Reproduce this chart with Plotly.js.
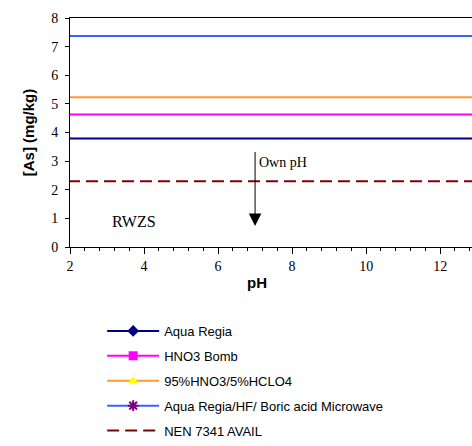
<!DOCTYPE html>
<html><head><meta charset="utf-8">
<script src="https://cdn.plot.ly/plotly-3.0.1.min.js"></script>
<style>
html,body{margin:0;padding:0;background:#fff}
#chart{width:472px;height:446px}
#chart .xtick text, #chart .ytick text{font-family:'Liberation Serif','Times New Roman',serif !important;}
</style>
</head><body><div id="chart"></div>
<script>
// Data
const seriesNames = ["Aqua Regia", "HNO3 Bomb", "95%HNO3/5%HCLO4", "Aqua Regia/HF/ Boric acid Microwave", "NEN 7341 AVAIL"];
const pHExtent = [0, 14];
const asAquaRegia = [3.79, 3.79];
const asHNO3Bomb = [4.63, 4.63];
const asHNO3HCLO4 = [5.23, 5.23];
const asMicrowave = [7.37, 7.37];
const asNEN7341 = [2.30, 2.30];
const ownPH = 7.0;
const arrowFrom = 3.37, arrowTo = 0.73;
const xTickVals = [2, 4, 6, 8, 10, 12];
const yTickVals = [0, 1, 2, 3, 4, 5, 6, 7, 8];

const traces = [
  {x: pHExtent, y: asAquaRegia, name: seriesNames[0], legendgroup: 'g0', mode: 'lines+markers',
   line: {color: '#000080', width: 2}, marker: {symbol: 'diamond', size: 9, color: '#000080'}},
  {x: pHExtent, y: asHNO3Bomb, name: seriesNames[1], legendgroup: 'g1', mode: 'lines+markers',
   line: {color: '#FF00FF', width: 2}, marker: {symbol: 'square', size: 9, color: '#FF00FF'}},
  {x: pHExtent, y: asHNO3HCLO4, name: seriesNames[2], legendgroup: 'g2', mode: 'lines+markers',
   line: {color: '#FF9933', width: 2}, marker: {symbol: 'triangle-up', size: 9, color: '#FFFF00'}},
  {x: pHExtent, y: asMicrowave, name: seriesNames[3], legendgroup: 'g3', mode: 'lines+markers',
   line: {color: '#3366FF', width: 2}, marker: {symbol: 'asterisk-open', size: 9, color: '#800080', line: {color: '#800080', width: 2}}},
  {x: pHExtent, y: asNEN7341, name: seriesNames[4], legendgroup: 'g4', mode: 'lines',
   line: {color: '#800000', width: 2, dash: '12px,6px'}}
];

const serif = 'Liberation Serif';
const sans = 'Liberation Sans';

const layout = {
  width: 472, height: 446,
  margin: {l: 70, r: 0, t: 18, b: 198},
  paper_bgcolor: '#fff', plot_bgcolor: '#fff',
  font: {family: serif, size: 14, color: '#000'},
  showlegend: true,
  legend: {x: 0.08, y: -0.30, xanchor: 'left', yanchor: 'top', traceorder: 'grouped',
    font: {family: sans, size: 13, color: '#000'}, tracegroupgap: 5,
    itemwidth: 52, bgcolor: 'rgba(0,0,0,0)'},
  xaxis: {range: [2, 12.86], tickmode: 'array', tickvals: xTickVals, ticktext: xTickVals.map(String),
    ticks: 'outside', ticklen: 6, tickwidth: 1,
    tickcolor: '#000', showline: true, linecolor: '#000', linewidth: 1, mirror: true,
    showgrid: false, zeroline: false, tickfont: {family: serif, size: 14, color: '#000'},
    minor: {dtick: 0.4, tick0: 2, ticks: 'outside', ticklen: 3, tickcolor: '#000', showgrid: false}},
  yaxis: {range: [0, 8], tickmode: 'array', tickvals: yTickVals, ticktext: yTickVals.map(String),
    ticks: 'outside', ticklen: 4, tickwidth: 1,
    tickcolor: '#000', showline: true, linecolor: '#000', linewidth: 1, ticklabelstandoff: 4,
    showgrid: false, zeroline: false, tickfont: {family: serif, size: 14, color: '#000'},
    title: {text: '[As] (mg/kg)', font: {family: sans, size: 15, color: '#000', weight: 'bold'}, standoff: 12}},
  annotations: [
    {x: ownPH, y: arrowTo, ax: ownPH, ay: arrowFrom, xref: 'x', yref: 'y', axref: 'x', ayref: 'y',
     text: '', showarrow: true, arrowhead: 2, arrowsize: 2.5, arrowwidth: 1, arrowcolor: '#000', standoff: 0},
    {x: ownPH, y: 2.95, xref: 'x', yref: 'y', text: 'Own pH', showarrow: false, xanchor: 'left', xshift: 2,
     font: {family: serif, size: 14, color: '#000'}},
    {x: 3.73, y: 0.9, xref: 'x', yref: 'y', text: 'RWZS', showarrow: false,
     font: {family: serif, size: 16, color: '#000'}},
    {x: 0.465, y: -0.155, xref: 'paper', yref: 'paper', text: '<b>pH</b>', showarrow: false,
     yanchor: 'middle', font: {family: sans, size: 15, color: '#000'}}
  ]
};

Plotly.newPlot('chart', traces, layout, {displayModeBar: false, staticPlot: true});
</script>
</body></html>
